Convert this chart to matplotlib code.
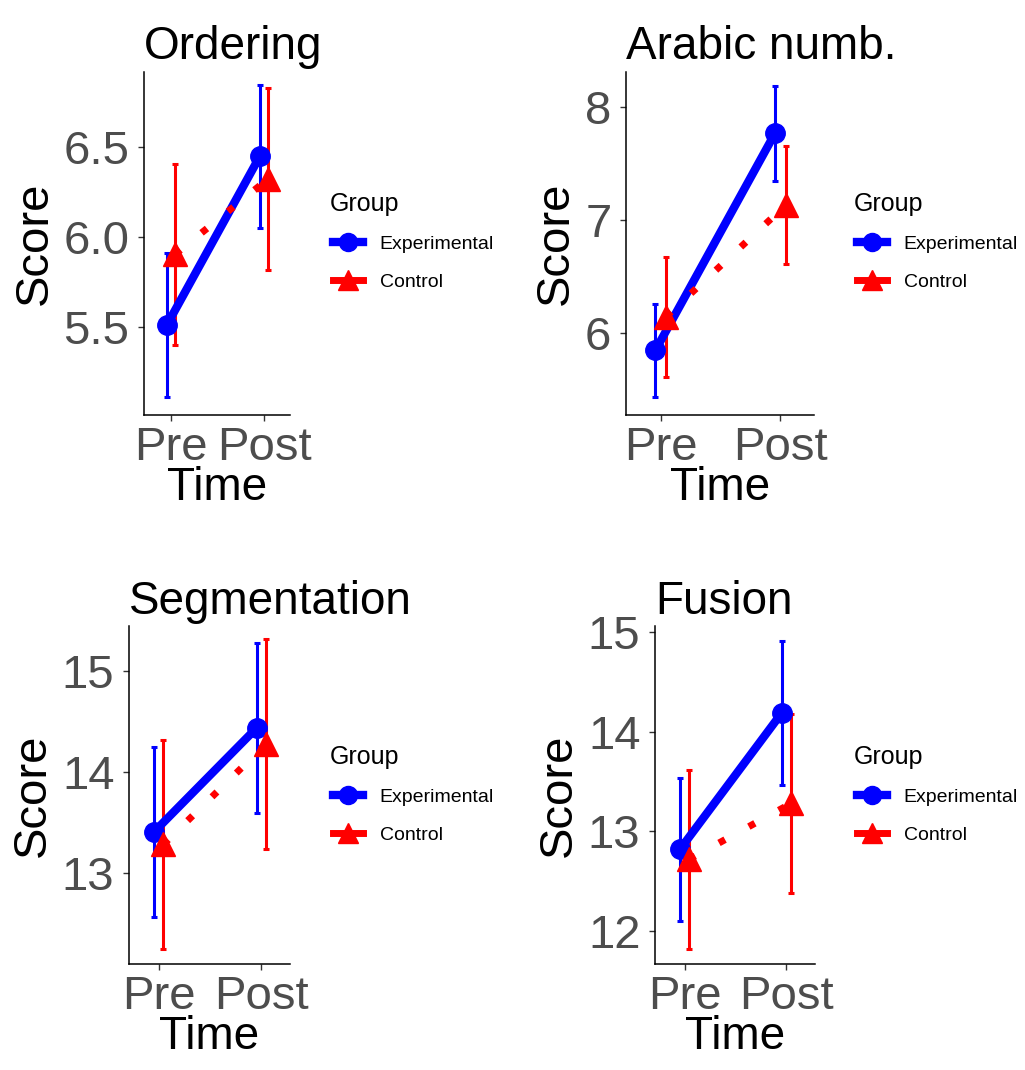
import matplotlib
matplotlib.use("Agg")
import matplotlib.pyplot as plt
from matplotlib.lines import Line2D

plt.rcParams['font.family'] = ['Liberation Sans', 'DejaVu Sans']

# data
titles = ["Ordering", "Arabic numb.", "Segmentation", "Fusion"]
times = ["Pre", "Post"]
exp_mean = [[5.51, 6.45], [5.85, 7.77], [13.41, 14.44], [12.82, 14.19]]
exp_err = [[0.40, 0.40], [0.41, 0.42], [0.84, 0.84], [0.72, 0.72]]
ctl_mean = [[5.905, 6.325], [6.15, 7.135], [13.285, 14.28], [12.72, 13.28]]
ctl_err = [[0.505, 0.505], [0.53, 0.525], [1.035, 1.04], [0.90, 0.90]]
yticks = [[5.5, 6.0, 6.5], [6, 7, 8], [13, 14, 15], [12, 13, 14, 15]]
ytick_fmt = ["{:.1f}", "{:d}", "{:d}", "{:d}"]
ylims = [(5.01, 6.92), (5.28, 8.31), (12.10, 15.45), (11.67, 15.06)]

# axes boxes in pixels: left, right, top, bottom
W, H = 1025, 1070
boxes = [(144, 290, 72, 415), (626, 814, 72, 415),
         (129, 290, 626, 964), (655, 815, 626, 964)]
# legend "Group" title position (left, top)
legend_at = [(330, 192), (854, 192), (330, 745), (854, 745)]

BLUE = "#0000FF"
RED = "#FF0000"
dodge = 0.045

fig = plt.figure(figsize=(W / 100, H / 100), dpi=100)

for i in range(4):
    l, r, t, b = boxes[i]
    ax = fig.add_axes([l / W, 1 - b / H, (r - l) / W, (b - t) / H])
    x = [1, 2]
    xe = [v - dodge for v in x]
    xc = [v + dodge for v in x]

    ax.errorbar(xe, exp_mean[i], yerr=exp_err[i], fmt="none", ecolor=BLUE,
                elinewidth=2.2, capsize=2.5, capthick=2.2, zorder=2)
    ax.errorbar(xc, ctl_mean[i], yerr=ctl_err[i], fmt="none", ecolor=RED,
                elinewidth=2.2, capsize=2.5, capthick=2.2, zorder=2)
    ax.plot(xe, exp_mean[i], color=BLUE, lw=6, solid_capstyle="butt", zorder=3)
    ax.plot(xc, ctl_mean[i], color=RED, lw=5, dashes=(1, 3.9),
            dash_capstyle="butt", zorder=3)
    ax.plot(xe, exp_mean[i], "o", color=BLUE, ms=14, zorder=4)
    ax.plot(xc, ctl_mean[i], "^", color=RED, ms=17, zorder=5)

    ax.set_xlim(0.71, 2.28)
    ax.set_ylim(*ylims[i])
    ax.set_xticks(x)
    ax.set_xticklabels(times)
    ax.set_yticks(yticks[i])
    ax.set_yticklabels([ytick_fmt[i].format(v) for v in yticks[i]])
    ax.tick_params(labelsize=34, labelcolor="#4D4D4D", color="#333333",
                   length=4, width=1)
    ax.tick_params(axis="x", pad=4)
    ax.tick_params(axis="y", pad=6.5)
    for s in ["top", "right"]:
        ax.spines[s].set_visible(False)
    for s in ["left", "bottom"]:
        ax.spines[s].set_linewidth(1.1)
    ax.set_title(titles[i], fontsize=33, pad=9, loc="left")
    ax.set_xlabel("Time", fontsize=33, labelpad=-3)
    ax.set_ylabel("Score", fontsize=34, labelpad=5)

    # legend: title as separate text, entries below
    lx, ly = legend_at[i]
    fig.text(lx / W, 1 - ly / H, "Group", fontsize=18, ha="left", va="top")
    handles = [
        Line2D([], [], color=BLUE, lw=6, marker="o", ms=13),
        Line2D([], [], color=RED, lw=5, marker="^", ms=15),
    ]
    fig.legend(handles, ["Experimental", "Control"],
               loc="upper left", bbox_to_anchor=((lx + 3) / W, 1 - (ly + 43) / H),
               frameon=False, fontsize=14,
               handlelength=1.55, handletextpad=0.85, labelspacing=1.05,
               borderpad=0, borderaxespad=0)

plt.savefig("out.png", dpi=100)
